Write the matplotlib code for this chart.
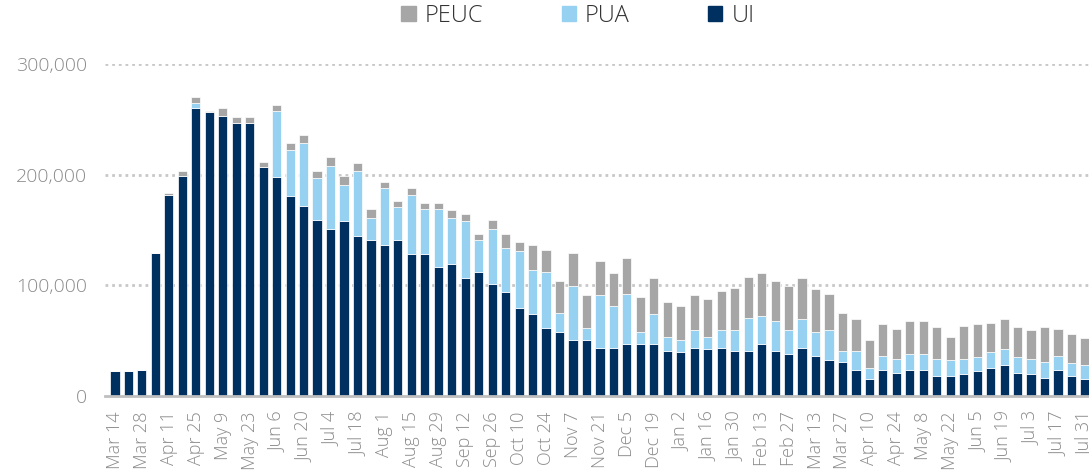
import numpy as np
import matplotlib
matplotlib.use("Agg")
import matplotlib.pyplot as plt
from matplotlib.patches import Patch
from matplotlib.ticker import FuncFormatter

plt.rcParams["font.family"] = ["Open Sans", "DejaVu Sans"]
plt.rcParams["font.weight"] = "light"

# weekly claims, thousands, weeks ending Mar 14 2020 .. Jul 31 2021
ui_k = [22.4, 22.4, 23.5, 129, 182, 199, 260.6, 256.6, 253, 246.4,
        246.4, 206.5, 198, 180.9, 172, 159, 150.7, 158, 145, 141,
        136.5, 141, 128, 128, 116.5, 119.3, 106.6, 112.3, 100.8, 93.6,
        79.4, 73.7, 61, 58, 50.7, 50.7, 43.8, 43.8, 46.8, 46.8,
        46.8, 41, 39.6, 43.8, 42.3, 43.8, 41, 41, 46.8, 41,
        38, 43.8, 36.5, 32.3, 30.8, 23.8, 15.4, 23.8, 21.1, 23.8,
        23.8, 18.1, 18.1, 19.6, 22.4, 25.1, 28.1, 21.1, 19.6, 16.6,
        23.8, 18.1, 15.4]

pua_k = [0, 0, 0, 0, 0, 0, 4.2, 0, 0, 0,
         0, 0, 59.5, 41.1, 57, 37.6, 57, 32.8, 58.5, 19.6,
         51.3, 29.6, 54, 41, 52.5, 41.3, 51.4, 28.4, 49.9, 39.8,
         51.3, 39.8, 51.3, 17.2, 48.7, 10.3, 47.1, 37.1, 45.3, 11.2,
         26.9, 12.7, 11.1, 15.7, 11.4, 15.7, 18.5, 29.9, 25.7, 26.9,
         21.5, 25.7, 21.5, 27.2, 10, 17, 9.7, 12.7, 12.7, 14.2,
         14.2, 15.7, 14.2, 14.2, 12.9, 14.5, 14.2, 14.2, 14.2, 14.2,
         12.7, 11.5, 12.7]

peuc_k = [0, 0, 0, 0, 1.5, 4, 5.2, 0.9, 7, 5.4,
          5.4, 5.2, 5.8, 7, 7, 6.4, 8.3, 8.2, 6.9, 8.2,
          5.7, 6, 5.8, 5.8, 5.8, 7.3, 6.9, 6, 8.3, 13.3,
          8.5, 23, 19.7, 28.3, 29.9, 29.9, 31.1, 29.9, 32.9, 31.4,
          32.9, 31.4, 30.2, 31.4, 34.2, 35.6, 38.3, 36.9, 38.3, 36,
          39.9, 37.1, 38.6, 32.6, 34.4, 28.7, 25.6, 28.4, 26.9, 29.9,
          29.9, 28.4, 21.4, 29.9, 29.6, 26.8, 27.2, 26.9, 25.7, 31.4,
          24.2, 26.8, 24.2]

# every other week is labelled
tick_labels = ["Mar 14", "Mar 28", "Apr 11", "Apr 25", "May 9", "May 23",
               "Jun 6", "Jun 20", "Jul 4", "Jul 18", "Aug 1", "Aug 15",
               "Aug 29", "Sep 12", "Sep 26", "Oct 10", "Oct 24", "Nov 7",
               "Nov 21", "Dec 5", "Dec 19", "Jan 2", "Jan 16", "Jan 30",
               "Feb 13", "Feb 27", "Mar 13", "Mar 27", "Apr 10", "Apr 24",
               "May 8", "May 22", "Jun 5", "Jun 19", "Jul 3", "Jul 17",
               "Jul 31"]

ui = np.array(ui_k) * 1000
pua = np.array(pua_k) * 1000
peuc = np.array(peuc_k) * 1000
x = np.arange(len(ui))

c_ui = "#00305f"
c_pua = "#97d1f1"
c_peuc = "#a6a6a6"
grey_txt = "#8a8a8a"

fig = plt.figure(figsize=(10.89, 4.75), dpi=100)
ax = fig.add_axes([105 / 1089, 1 - 396 / 475, 984 / 1089, 332 / 475])

w = 0.68
ax.bar(x, ui, w, color=c_ui, edgecolor="white", linewidth=0.5, zorder=3)
ax.bar(x, pua, w, bottom=ui, color=c_pua, edgecolor="white", linewidth=0.5, zorder=3)
ax.bar(x, peuc, w, bottom=ui + pua, color=c_peuc, edgecolor="white", linewidth=0.5, zorder=3)

ax.set_xlim(-0.74, 72.3)
ax.set_ylim(0, 300000)
ax.set_yticks([0, 100000, 200000, 300000])
ax.yaxis.set_major_formatter(FuncFormatter(lambda v, p: f"{int(v):,}"))
ax.set_xticks(x[::2])
ax.set_xticklabels(tick_labels, rotation=90, va="top", ha="center")

ax.tick_params(axis="y", length=0, pad=13, labelsize=14, labelcolor=grey_txt)
ax.tick_params(axis="x", length=0, pad=11, labelsize=13, labelcolor=grey_txt)

for y in [100000, 200000, 300000]:
    ax.axhline(y, color="#c8c8c8", linewidth=2, linestyle=(0, (1, 1.4)), zorder=1)

for s in ["top", "right", "left"]:
    ax.spines[s].set_visible(False)
ax.spines["bottom"].set_color("#bfbfbf")
ax.spines["bottom"].set_linewidth(2)
ax.spines["bottom"].set_zorder(4)

handles = [Patch(color=c_peuc, label="PEUC"),
           Patch(color=c_pua, label="PUA"),
           Patch(color=c_ui, label="UI")]
fig.legend(handles=handles, loc="center", bbox_to_anchor=(578 / 1089, 1 - 16 / 475),
           ncol=3, frameon=False, fontsize=17, handlelength=0.6, handleheight=0.6,
           handletextpad=0.4, columnspacing=3.3, labelcolor="#333333")

fig.savefig("out.png", dpi=100)
